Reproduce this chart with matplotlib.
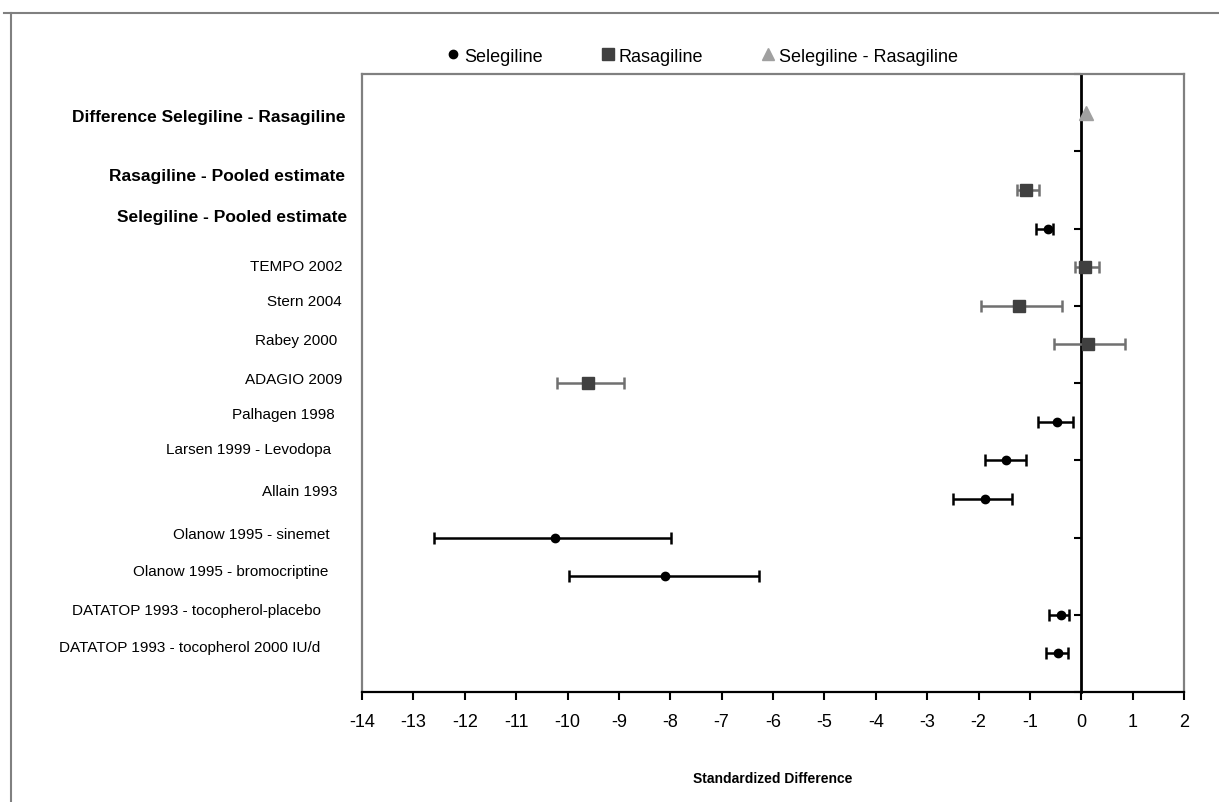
import matplotlib
matplotlib.use('Agg')
import matplotlib.pyplot as plt
import matplotlib.transforms as mtransforms
from matplotlib.lines import Line2D

plt.rcParams['font.family'] = ['Liberation Sans', 'DejaVu Sans']
plt.rcParams['axes.unicode_minus'] = False

# Study rows (y level on the chart, from bottom = 1)
labels = ['Difference Selegiline - Rasagiline',
          'Rasagiline - Pooled estimate',
          'Selegiline - Pooled estimate',
          'TEMPO 2002', 'Stern 2004', 'Rabey 2000', 'ADAGIO 2009',
          'Palhagen 1998', 'Larsen 1999 - Levodopa', 'Allain 1993',
          'Olanow 1995 - sinemet', 'Olanow 1995 - bromocriptine',
          'DATATOP 1993 - tocopherol-placebo',
          'DATATOP 1993 - tocopherol 2000 IU/d']
bold_rows = [True, True, True] + [False] * 11
levels = [15, 13, 12, 11, 10, 9, 8, 7, 6, 5, 4, 3, 2, 1]

# Selegiline studies
sel_y = [12, 7, 6, 5, 4, 3, 2, 1]
sel_est = [-0.65, -0.47, -1.46, -1.87, -10.25, -8.11, -0.39, -0.45]
sel_lo = [-0.88, -0.84, -1.87, -2.49, -12.60, -9.98, -0.62, -0.68]
sel_hi = [-0.55, -0.16, -1.08, -1.35, -7.98, -6.28, -0.23, -0.26]

# Rasagiline studies
ras_y = [13, 11, 10, 9, 8]
ras_est = [-1.07, 0.08, -1.22, 0.14, -9.60]
ras_lo = [-1.25, -0.12, -1.96, -0.53, -10.20]
ras_hi = [-0.83, 0.35, -0.38, 0.86, -8.90]

# Difference
diff_y = [15]
diff_est = [0.1]

# layout: label anchor positions (right edge in px, y in data units)
label_right_px = [345, 345, 347, 342, 342, 337, 342, 335, 331, 338, 330, 328, 321, 320]
label_y = [14.91, 13.36, 12.32, 11.03, 10.12, 9.11, 8.10, 7.20, 6.29, 5.20, 4.09, 3.13, 2.12, 1.17]

W, H = 1219, 803
fig = plt.figure(figsize=(W / 100, H / 100), dpi=100)
ax = fig.add_axes([362 / W, 1 - 693 / H, (1184 - 362) / W, (693 - 75) / H])

sel_err = [[e - l for e, l in zip(sel_est, sel_lo)], [h - e for e, h in zip(sel_est, sel_hi)]]
ras_err = [[e - l for e, l in zip(ras_est, ras_lo)], [h - e for e, h in zip(ras_est, ras_hi)]]

ax.errorbar(sel_est, sel_y, xerr=sel_err, fmt='o', color='black', ecolor='black',
            markersize=6, elinewidth=1.8, capsize=4.3, capthick=1.8, zorder=4)
ax.errorbar(ras_est, ras_y, xerr=ras_err, fmt='s', color='#404040', ecolor='#707070',
            markersize=8.5, elinewidth=1.8, capsize=4.3, capthick=1.8, zorder=4)
ax.plot(diff_est, diff_y, '^', color='#a0a0a0', markersize=10, zorder=4)

ax.set_xlim(-14, 2)
ax.set_ylim(0, 16)
ax.set_xticks(range(-14, 3))
ax.tick_params(axis='x', direction='out', length=6, width=1.5, labelsize=13, pad=9, colors='black')

# vertical axis sits on x = 0
ax.spines['left'].set_position(('data', 0))
ax.spines['left'].set_color('black')
ax.spines['left'].set_linewidth(2)
ax.set_yticks(range(0, 17, 2))
ax.set_yticklabels([])
ax.tick_params(axis='y', direction='out', length=5, width=1.5, colors='black')
for s in ['top', 'right']:
    ax.spines[s].set_color('#808080')
    ax.spines[s].set_linewidth(1.6)
ax.spines['bottom'].set_color('black')
ax.spines['bottom'].set_linewidth(1.6)
# left border of plot area
ax.add_line(Line2D([0, 0], [0, 1], transform=ax.transAxes, color='#808080', lw=1.6, clip_on=False))

ax.set_xlabel('Standardized Difference', fontsize=10, fontweight='bold', labelpad=30)

# row labels
trans = mtransforms.blended_transform_factory(fig.transFigure, ax.transData)
for lab, b, xr, yl in zip(labels, bold_rows, label_right_px, label_y):
    ax.text(xr / W, yl, lab, transform=trans, ha='right', va='center',
            fontsize=12.5 if b else 11, fontweight='bold' if b else 'normal', clip_on=False)

# legend
handles = [Line2D([], [], marker='o', color='black', linestyle='none', markersize=6),
           Line2D([], [], marker='s', color='#404040', linestyle='none', markersize=8),
           Line2D([], [], marker='^', color='#a0a0a0', linestyle='none', markersize=9)]
fig.legend(handles, ['Selegiline', 'Rasagiline', 'Selegiline - Rasagiline'],
           loc='center', bbox_to_anchor=(702 / W, 1 - 57 / H), ncol=3, frameon=False,
           fontsize=13, handlelength=0.8, handletextpad=0.2, columnspacing=3.2)

# outer frame
fig.add_artist(Line2D([4 / W, 1], [1 - 14 / H, 1 - 14 / H], transform=fig.transFigure, color='#808080', lw=1.5))
fig.add_artist(Line2D([11 / W, 11 / W], [0, 1 - 14 / H], transform=fig.transFigure, color='#808080', lw=1.5))

fig.savefig('out.png', dpi=100)
